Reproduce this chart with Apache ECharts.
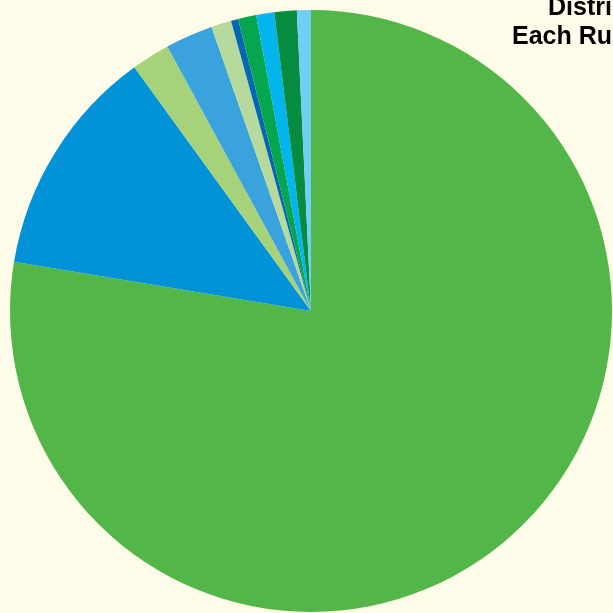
<!DOCTYPE html>
<html>
<head>
<meta charset="utf-8">
<script src="https://cdn.jsdelivr.net/npm/echarts@6/dist/echarts.min.js"></script>
<style>
html,body{margin:0;padding:0;background:#fffce9;}
#chart{width:613px;height:613px;}
</style>
</head>
<body>
<div id="chart"></div>
<script>
const categories = ["Candidate A","Candidate B","Candidate C","Candidate D","Candidate E","Candidate F","Candidate G","Candidate H","Candidate I","Candidate J"];
const values = [77.6, 12.4, 2.06, 2.56, 1.08, 0.39, 0.97, 0.97, 1.2, 0.75];
const colors = ["#52b748","#0292d8","#a6d27a","#3aa2dc","#b5da9b","#0567b4","#05a64f","#02b5ec","#068b40","#6fcff5"];
const titleLine1 = "Distribution of Votes for";
const titleLine2 = "Each Running Candidate";

const chart = echarts.init(document.getElementById('chart'), null, {renderer:'canvas'});
chart.setOption({
  backgroundColor: '#fffce9',
  animation: false,
  title: [
    {text: titleLine1, left: 548, top: -4, padding: 0,
     textStyle: {fontFamily: 'Liberation Sans', fontWeight: 'bold', fontSize: 25, lineHeight: 25, color: '#000'}},
    {text: titleLine2, left: 512, top: 25, padding: 0,
     textStyle: {fontFamily: 'Liberation Sans', fontWeight: 'bold', fontSize: 25, lineHeight: 25, color: '#000'}}
  ],
  series: [{
    type: 'pie',
    center: [311, 311],
    radius: [0, 301],
    startAngle: 90,
    clockwise: true,
    label: {show: false},
    labelLine: {show: false},
    emphasis: {disabled: true},
    itemStyle: {borderWidth: 0},
    data: categories.map((c, i) => ({name: c, value: values[i], itemStyle: {color: colors[i]}}))
  }]
});
</script>
</body>
</html>
